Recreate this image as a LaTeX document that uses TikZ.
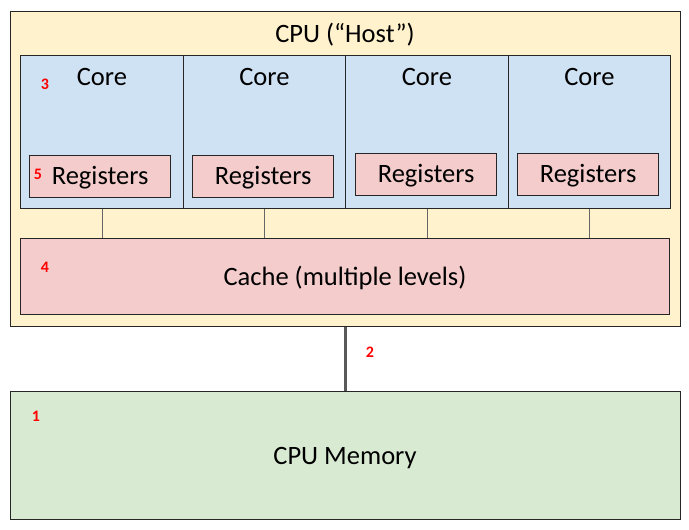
\documentclass[tikz,border=0pt]{standalone}
\usepackage{fontspec}
\setmainfont{Carlito}
\usetikzlibrary{positioning}

\definecolor{hostfill}{HTML}{FFF2CC}
\definecolor{corefill}{HTML}{CFE2F3}
\definecolor{regfill}{HTML}{F4CCCC}
\definecolor{memfill}{HTML}{D9EAD3}

\tikzset{
    box/.style={rectangle,draw=black!85,line width=1.3pt,inner sep=0pt,anchor=north west},
    boxtext/.style={font=\fontsize{26.5}{30}\selectfont},
    tag/.style={text=red,font=\bfseries\fontsize{16}{19}\selectfont},
    link/.style={draw=black!60,line width=0.8pt},
}

\begin{document}
\begin{tikzpicture}[x=1pt,y=-1pt]
    \useasboundingbox (0,0) rectangle (689,530);

    % Host and memory %
    \node[box,fill=hostfill,minimum width=670,minimum height=315] (cpu) at (10,11) {};
    \node[boxtext] (cputext) at (345,35) {CPU (“Host”)};
    \node[box,fill=memfill,minimum width=670,minimum height=128] (mem) at (10,391) {};
    \node[boxtext] (memtext) at (345,458) {CPU Memory};

    % Cores with registers %
    \foreach \i/\x/\rx/\ry in {1/20/29/155, 2/182.5/192/155, 3/345/355/153, 4/507.5/517/153} {
        \node[box,fill=corefill,minimum width=162.5,minimum height=153] (core\i) at (\x,55) {};
        \node[boxtext,below=10pt of core\i.north] (coretext\i) {Core};
        \node[box,fill=regfill,minimum width=141,minimum height=42] (reg\i) at (\rx,\ry) {};
        \node[boxtext,yshift=-1pt] (regtext\i) at (reg\i.center) {Registers};
    }

    % Cache %
    \node[box,fill=regfill,minimum width=649,minimum height=76] (cache) at (20,238) {};
    \node[boxtext] (cachetext) at (345,278) {Cache (multiple levels)};

    % Links %
    \foreach \i in {1,...,4}
        \draw[link] (core\i.south) -- (core\i.south |- cache.north);
    \draw[draw=black!65,line width=3pt] (cpu.south) -- (mem.north);

    % Numbers %
    \node[tag] (n1) at (36,416) {1};
    \node[tag] (n2) at (370,352) {2};
    \node[tag] (n3) at (45,84) {3};
    \node[tag] (n4) at (45,267) {4};
    \node[tag] (n5) at (38,174) {5};

\end{tikzpicture}
\end{document}
